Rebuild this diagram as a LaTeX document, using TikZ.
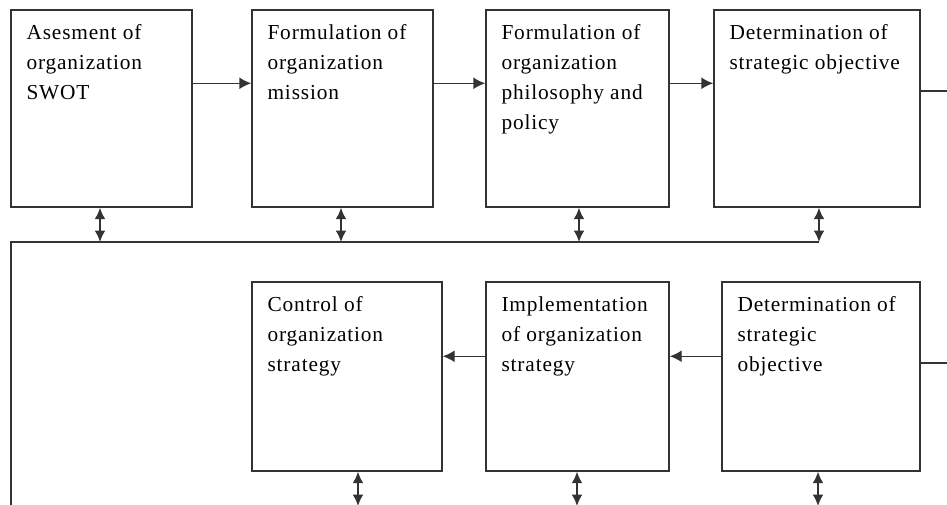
\documentclass[tikz,border=0pt]{standalone}
\usepackage{fontspec}
\setmainfont{Liberation Serif}[LetterSpace=4]
\usepackage{tikz}
\usetikzlibrary{arrows.meta}

\tikzset{
  stage/.style={shape=rectangle, draw=black!80, line width=1.1pt, inner sep=0pt, minimum height=#1},
  stagetext/.style={anchor=north west, inner xsep=12pt, inner ysep=11.5pt, align=left, font=\fontsize{16}{22.5}\selectfont},
  flow/.style={-{Latex[length=9pt,width=9pt]}, line width=1.1pt, draw=black!80},
  twoway/.style={{Latex[length=8.5pt,width=8pt]}-{Latex[length=8.5pt,width=8pt]}, line width=1.1pt, draw=black!80},
  wire/.style={-, line width=1.1pt, draw=black!80}
}

\begin{document}
\begin{tikzpicture}[x=0.75pt,y=-0.75pt]

\useasboundingbox (0,0) rectangle (947,504);
\clip (0,0) rectangle (947,504);

%% first row

%% nodes

\node[stage=147.75pt, minimum width=135.75pt, label={[stagetext]north west:{Asesment of\\organization\\SWOT}}] (s1) at (101.5,108.5) {};
\node[stage=147.75pt, minimum width=135.75pt, label={[stagetext]north west:{Formulation of\\organization\\mission}}] (s2) at (342.5,108.5) {};
\node[stage=147.75pt, minimum width=137.25pt, label={[stagetext]north west:{Formulation of\\organization\\philosophy and\\policy}}] (s3) at (577.5,108.5) {};
\node[stage=147.75pt, minimum width=154.5pt, label={[stagetext]north west:{Determination of\\strategic objective}}] (s4) at (817,108.5) {};

%% arrows

\draw[flow] ([yshift=-55.5pt]s1.north east) -- ([yshift=-55.5pt]s2.north west);
\draw[flow] ([yshift=-55.5pt]s2.north east) -- ([yshift=-55.5pt]s3.north west);
\draw[flow] ([yshift=-55.5pt]s3.north east) -- ([yshift=-55.5pt]s4.north west);

\coordinate (out1) at (960,91);
\draw[wire] (s4.east |- out1) -- (out1);

%% feedback line

\coordinate (bus) at (11,242);
\coordinate (u1) at (100,242);
\coordinate (u2) at (341,242);
\coordinate (u3) at (579,242);
\coordinate (u4) at (819,242);

\draw[wire] (u4) -- (bus) -- (bus |- 0,520);

\draw[twoway] (s1.south -| u1) -- (u1);
\draw[twoway] (s2.south -| u2) -- (u2);
\draw[twoway] (s3.south -| u3) -- (u3);
\draw[twoway] (s4.south -| u4) -- (u4);

%% second row

%% nodes

\node[stage=141.75pt, minimum width=142.5pt, label={[stagetext]north west:{Control of\\organization\\strategy}}] (b1) at (347,376.5) {};
\node[stage=141.75pt, minimum width=137.25pt, label={[stagetext]north west:{Implementation\\of organization\\strategy}}] (b2) at (577.5,376.5) {};
\node[stage=141.75pt, minimum width=148.5pt, label={[stagetext]north west:{Determination of\\strategic\\objective}}] (b3) at (821,376.5) {};

%% arrows

\draw[flow] ([yshift=-56.25pt]b3.north west) -- ([yshift=-56.25pt]b2.north east);
\draw[flow] ([yshift=-56.25pt]b2.north west) -- ([yshift=-56.25pt]b1.north east);

\coordinate (out2) at (960,363);
\draw[wire] (b3.east |- out2) -- (out2);

\coordinate (d1) at (358,506);
\coordinate (d2) at (577,506);
\coordinate (d3) at (818,506);

\draw[twoway] (b1.south -| d1) -- (d1);
\draw[twoway] (b2.south -| d2) -- (d2);
\draw[twoway] (b3.south -| d3) -- (d3);

\end{tikzpicture}
\end{document}
